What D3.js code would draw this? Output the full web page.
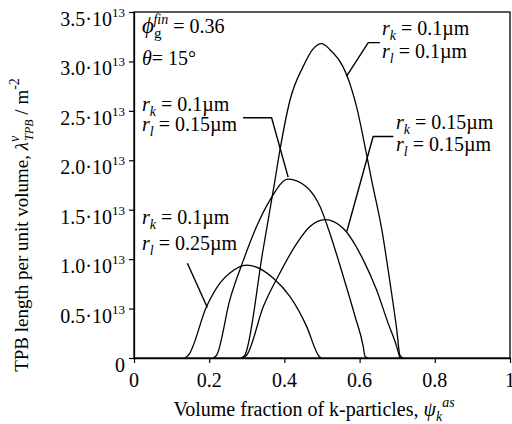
<!DOCTYPE html>
<html><head><meta charset="utf-8">
<script src="https://cdn.jsdelivr.net/npm/d3@7"></script>
<style>
html,body{margin:0;padding:0;background:#fff;}
</style></head>
<body><svg id="c" width="512" height="424" font-family="'Liberation Serif', 'DejaVu Serif', serif"></svg>
<script>
// ---- data (psi = volume fraction of k-particles, lam in units of 1e13 m^-2) ----
const psiA = [0.285,0.295,0.343,0.375,0.388,0.415,0.45,0.477,0.499,0.521,0.566,0.592,0.619,0.632,0.659,0.681,0.699,0.707,0.715];
const lamA = [0,0.03,1.09,1.80,2.10,2.61,2.95,3.13,3.18,3.12,2.86,2.54,2.05,1.80,1.30,0.76,0.28,0.03,0];
const psiB = [0.21,0.22,0.255,0.291,0.326,0.362,0.41,0.459,0.495,0.521,0.557,0.588,0.61,0.614,0.622];
const lamB = [0,0.03,0.59,0.99,1.33,1.60,1.81,1.73,1.53,1.26,0.82,0.42,0.11,0.02,0];
const psiC = [0.29,0.30,0.344,0.388,0.433,0.468,0.508,0.557,0.61,0.645,0.676,0.699,0.707];
const lamC = [0,0.03,0.52,0.86,1.16,1.33,1.40,1.31,0.99,0.69,0.35,0.11,0];
const psiD = [0.135,0.145,0.193,0.229,0.255,0.30,0.37,0.415,0.459,0.49,0.497];
const lamD = [0,0.03,0.52,0.76,0.86,0.94,0.81,0.62,0.32,0.03,0];
const xTicks = [0,0.2,0.4,0.6,0.8,1];
const xTickLabels = ["0","0.2","0.4","0.6","0.8","1"];
const yTicks = [0,0.5,1.0,1.5,2.0,2.5,3.0,3.5];
const yTickMant = ["0","0.5","1.0","1.5","2.0","2.5","3.0","3.5"];

const svg = d3.select("#c");
const L=134, R=510, T=12, B=358;
const x = d3.scaleLinear().domain([0,1]).range([L,R]);
const y = d3.scaleLinear().domain([0,3.5]).range([B,T]);
const FS = 20;

// frame
svg.append("rect").attr("x",L).attr("y",T).attr("width",R-L).attr("height",B-T)
  .attr("fill","none").attr("stroke","#000").attr("stroke-width",1.3);

// axes
const gx = svg.append("g").attr("transform",`translate(0,${B})`)
  .call(d3.axisBottom(x).tickValues(xTicks).tickSize(5).tickSizeOuter(0).tickFormat(""));
const gy = svg.append("g").attr("transform",`translate(${L},0)`)
  .call(d3.axisLeft(y).tickValues(yTicks).tickSize(5).tickSizeOuter(0).tickFormat(""));
[gx,gy].forEach(g=>{g.select(".domain").attr("stroke","#000").attr("stroke-width",1.3);
  g.selectAll(".tick line").attr("stroke","#000").attr("stroke-width",1.2);});

// x tick labels
svg.append("g").selectAll("text").data(xTicks).join("text")
  .attr("x",d=>x(d)).attr("y",B+29).attr("text-anchor","middle")
  .attr("font-size",FS).text((d,i)=>xTickLabels[i]);

// y tick labels
const yl = svg.append("g").selectAll("text").data(yTicks).join("text")
  .attr("x",L-9).attr("y",d=>y(d)+14).attr("text-anchor","end").attr("font-size",FS);
yl.each(function(d,i){
  const t=d3.select(this);
  if(d===0){t.text("0");return;}
  t.append("tspan").text(yTickMant[i]+"\u00B710");
  t.append("tspan").attr("font-size",13).attr("dy",-9).text("13");
});

// rich text helper
function rich(px,py,segs,size){
  const t=svg.append("text").attr("x",px).attr("y",py).attr("font-size",size||FS);
  let cur=0;
  segs.forEach(s=>{
    const sp=t.append("tspan").text(s.t);
    let target=0, fs=size||FS;
    if(s.sub){target=5;fs=14;} if(s.sup){target=-9;fs=14;}
    if(s.fs) fs=s.fs;
    sp.attr("font-size",fs);
    if(target!==cur){sp.attr("dy",target-cur);cur=target;}
    if(s.i) sp.attr("font-style","italic");
    if(s.dx) sp.attr("dx",s.dx);
  });
  return t;
}

// curves
const line = d3.line().x(d=>x(d[0])).y(d=>y(d[1])).curve(d3.curveMonotoneX);
[[psiA,lamA],[psiB,lamB],[psiC,lamC],[psiD,lamD]].forEach(([p,l])=>{
  svg.append("path").datum(p.map((v,i)=>[v,l[i]])).attr("d",line)
    .attr("fill","none").attr("stroke","#000").attr("stroke-width",1.3);
});

// leader lines (data coordinates)
const leaders = [
  [[0.290,2.43],[0.366,2.43],[0.410,1.83]],
  [[0.654,3.19],[0.623,3.19],[0.565,2.85]],
  [[0.690,2.24],[0.636,2.24],[0.566,1.28]],
  [[0.142,0.958],[0.195,0.511]]
];
const lline = d3.line().x(d=>x(d[0])).y(d=>y(d[1]));
leaders.forEach(pts=>svg.append("path").attr("d",lline(pts))
  .attr("fill","none").attr("stroke","#000").attr("stroke-width",1.4));

// annotations
rich(142,33,[{t:"\u03D5",i:1,fs:23},{t:"g",sub:1,fs:15},{t:"fin",sup:1,i:1,dx:-8},{t:" = 0.36"}]);
rich(142,65,[{t:"\u03B8",i:1},{t:"= 15\u00B0"}]);
function rr(px,py1,py2,rk,rl){
  rich(px,py1,[{t:"r",i:1},{t:"k",i:1,sub:1},{t:" = "+rk+"\u00B5m"}]);
  rich(px,py2,[{t:"r",i:1},{t:"l",i:1,sub:1},{t:"  = "+rl+"\u00B5m"}]);
}
rr(142,111,131,"0.1","0.15");
rr(382,35,58,"0.1","0.1");
rr(396,129,151,"0.15","0.15");
rr(142,224,250,"0.1","0.25");

// axis titles
rich(314,416,[{t:"Volume fraction of k-particles, "},{t:"\u03C8",i:1},{t:"k",i:1,sub:1},{t:"as",i:1,sup:1}]).attr("text-anchor","middle");
rich(0,0,[{t:"TPB length per unit volume, "},{t:"\u03BB",i:1},{t:"v",i:1,sup:1},{t:"TPB",i:1,sub:1,fs:12,dx:-5},{t:" / m"},{t:"-2",sup:1}],19)
  .attr("text-anchor","middle").attr("transform","translate(28,225) rotate(-90)");
</script></body></html>
